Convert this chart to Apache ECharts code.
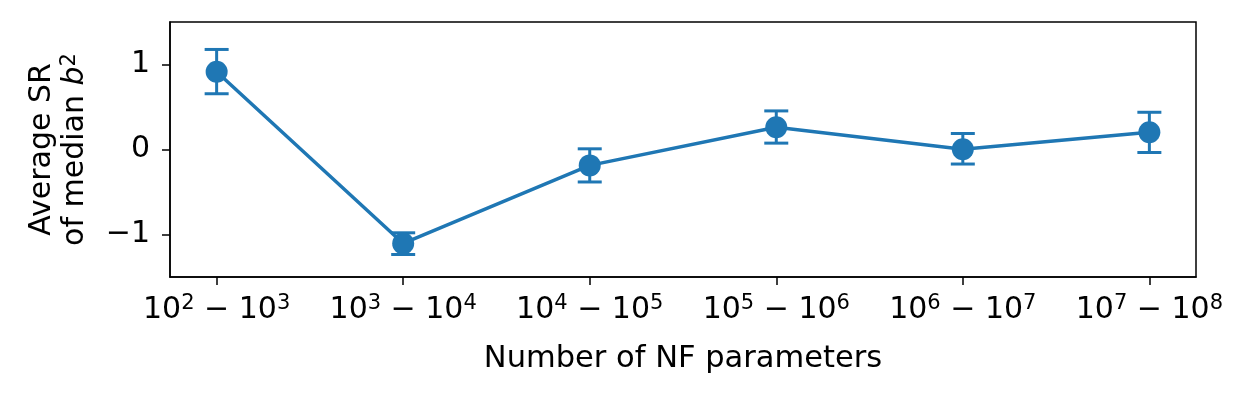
<!DOCTYPE html>
<html>
<head>
<meta charset="utf-8">
<script src="https://cdn.jsdelivr.net/npm/echarts@6/dist/echarts.min.js"></script>
<style>
  html, body { margin: 0; padding: 0; background: #fff; }
  #chart { width: 1246px; height: 397px; }
</style>
</head>
<body>
<div id="chart"></div>
<script>
// categories (x positions 0..5), written as base / exponent pairs
const xBaseExp = [[2, 3], [3, 4], [4, 5], [5, 6], [6, 7], [7, 8]];
const meanSR = [0.914, -1.105, -0.187, 0.262, 0.004, 0.204];
const errLow = [0.656, -1.235, -0.382, 0.075, -0.171, -0.035];
const errHigh = [1.177, -0.980, 0.008, 0.454, 0.188, 0.438];
const yTicks = [-1, 0, 1];

const blue = '#1f77b4';
const font = 'DejaVu Sans';

let myChart = echarts.init(document.getElementById('chart'));

const lineData = meanSR.map((v, i) => [i, v]);
const errData = meanSR.map((v, i) => [i, errLow[i], errHigh[i]]);

myChart.setOption({
  animation: false,
  grid: {
    left: 170, right: 50, top: 22, bottom: 120,
    show: true, borderColor: '#000', borderWidth: 1.5, backgroundColor: 'transparent'
  },
  xAxis: {
    type: 'value',
    min: -0.25, max: 5.25,
    name: 'Number of NF parameters',
    nameLocation: 'middle',
    nameGap: 67,
    nameTextStyle: { fontFamily: font, fontSize: 30.5, color: '#000' },
    axisLine: { show: true, onZero: false, lineStyle: { color: '#000', width: 1.5 } },
    splitLine: { show: false },
    axisTick: { show: true, length: 8, customValues: [0, 1, 2, 3, 4, 5], lineStyle: { color: '#000', width: 1.5 } },
    axisLabel: {
      customValues: [0, 1, 2, 3, 4, 5],
      margin: 16,
      formatter: v => {
        const p = xBaseExp[Math.round(v)];
        return '{m|10}{s|' + p[0] + '}{m| − 10}{s|' + p[1] + '}';
      },
      rich: {
        m: { fontFamily: font, fontSize: 30, color: '#000', lineHeight: 34 },
        s: { fontFamily: font, fontSize: 21, color: '#000', verticalAlign: 'top', lineHeight: 24 }
      }
    }
  },
  yAxis: {
    type: 'value',
    min: -1.5, max: 1.5,
    name: '{n|Average SR}\n{n|of median }{i|b}{s|2}',
    nameLocation: 'middle',
    nameRotate: 90,
    nameGap: 78,
    nameTextStyle: {
      fontFamily: font, fontSize: 30, color: '#000', lineHeight: 33,
      rich: {
        n: { fontFamily: font, fontSize: 30, color: '#000', lineHeight: 33 },
        i: { fontFamily: font, fontSize: 30, fontStyle: 'italic', color: '#000', lineHeight: 33 },
        s: { fontFamily: font, fontSize: 21, color: '#000', verticalAlign: 'top', lineHeight: 22 }
      }
    },
    axisLine: { show: true, onZero: false, lineStyle: { color: '#000', width: 1.5 } },
    splitLine: { show: false },
    axisTick: { show: true, length: 8, customValues: yTicks, lineStyle: { color: '#000', width: 1.5 } },
    axisLabel: {
      customValues: yTicks,
      margin: 20,
      fontFamily: font, fontSize: 30, color: '#000',
      formatter: v => (v < 0 ? '−' + Math.abs(v) : String(v))
    }
  },
  series: [
    {
      type: 'custom',
      data: errData,
      z: 1,
      renderItem: function (params, api) {
        const x = api.value(0);
        const lo = api.coord([x, api.value(1)]);
        const hi = api.coord([x, api.value(2)]);
        const half = 12;
        const style = { stroke: blue, lineWidth: 3 };
        return {
          type: 'group',
          children: [
            { type: 'line', shape: { x1: lo[0], y1: lo[1], x2: hi[0], y2: hi[1] }, style: style },
            { type: 'line', shape: { x1: lo[0] - half, y1: lo[1], x2: lo[0] + half, y2: lo[1] }, style: style },
            { type: 'line', shape: { x1: hi[0] - half, y1: hi[1], x2: hi[0] + half, y2: hi[1] }, style: style }
          ]
        };
      }
    },
    {
      type: 'line',
      data: lineData,
      z: 2,
      symbol: 'circle',
      symbolSize: 22,
      lineStyle: { color: blue, width: 3.5 },
      itemStyle: { color: blue, borderWidth: 0 }
    }
  ]
});
</script>
</body>
</html>
